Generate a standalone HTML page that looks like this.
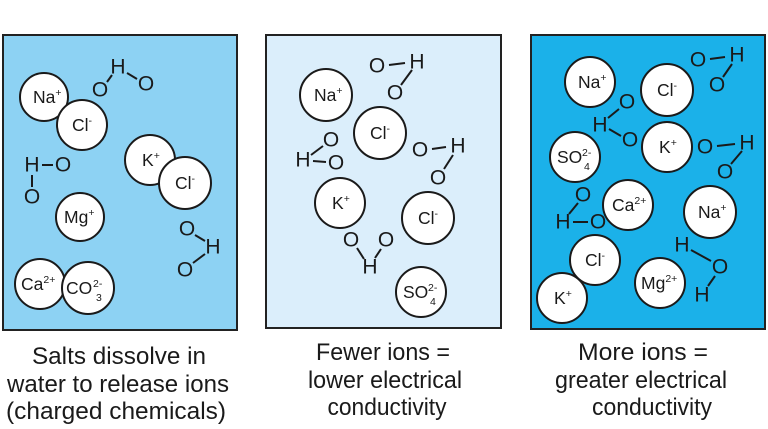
<!DOCTYPE html>
<html><head><meta charset="utf-8"><style>
html,body{margin:0;padding:0;background:#fff;}
svg{display:block;}
text{font-family:"Liberation Sans",sans-serif;fill:#1a1a1a;}
.a{font-size:21px;text-anchor:middle;dominant-baseline:central;}
.i{font-size:17.5px;}
.s{font-size:10.5px;}
.c{font-size:24px;text-anchor:middle;}
line{stroke:#1a1a1a;stroke-width:2;}
circle{fill:#fff;stroke:#1a1a1a;stroke-width:2;}
</style></head><body>
<svg width="768" height="429" viewBox="0 0 768 429" xmlns="http://www.w3.org/2000/svg">
<rect x="3" y="35" width="234" height="295" fill="#8dd2f3" stroke="#222" stroke-width="2"/>
<rect x="266" y="35" width="235" height="293" fill="#dbeefb" stroke="#222" stroke-width="2"/>
<rect x="531" y="35" width="234" height="294" fill="#1bb1e9" stroke="#222" stroke-width="2"/>

<!-- LEFT -->
<circle cx="44" cy="97" r="24"/><text x="33" y="103" class="i">Na<tspan class="s" dy="-7">+</tspan></text>
<circle cx="82" cy="125" r="25"/><text x="72" y="131" class="i">Cl<tspan class="s" dy="-7">-</tspan></text>
<circle cx="150" cy="160" r="25"/><text x="142" y="166" class="i">K<tspan class="s" dy="-7">+</tspan></text>
<circle cx="185" cy="183" r="26"/><text x="175" y="189" class="i">Cl<tspan class="s" dy="-7">-</tspan></text>
<circle cx="80" cy="217" r="24"/><text x="64" y="223" class="i">Mg<tspan class="s" dy="-7">+</tspan></text>
<circle cx="40" cy="284" r="25"/><text x="21" y="290" class="i">Ca<tspan class="s" dy="-7">2+</tspan></text>
<circle cx="88" cy="288" r="26"/><text x="66" y="294" class="i">CO</text><text x="93" y="287" class="s">2-</text><text x="96" y="301" class="s">3</text>
<text x="118" y="67" class="a">H</text><text x="100" y="90" class="a">O</text><text x="146" y="84" class="a">O</text>
<line x1="112" y1="75" x2="107" y2="82"/><line x1="127" y1="73" x2="137" y2="79"/>
<text x="32" y="165" class="a">H</text><text x="63" y="165" class="a">O</text><text x="32" y="197" class="a">O</text>
<line x1="42" y1="165" x2="53" y2="165"/><line x1="32" y1="175" x2="32" y2="187"/>
<text x="187" y="229" class="a">O</text><text x="213" y="247" class="a">H</text><text x="185" y="270" class="a">O</text>
<line x1="195" y1="235" x2="205" y2="241"/><line x1="193" y1="263" x2="205" y2="254"/>

<!-- MIDDLE -->
<circle cx="326" cy="95" r="26"/><text x="314" y="101" class="i">Na<tspan class="s" dy="-7">+</tspan></text>
<circle cx="380" cy="133" r="26"/><text x="370" y="139" class="i">Cl<tspan class="s" dy="-7">-</tspan></text>
<circle cx="340" cy="203" r="25"/><text x="332" y="209" class="i">K<tspan class="s" dy="-7">+</tspan></text>
<circle cx="428" cy="218" r="26"/><text x="418" y="224" class="i">Cl<tspan class="s" dy="-7">-</tspan></text>
<circle cx="421" cy="292" r="25"/><text x="403" y="298" class="i">SO</text><text x="428" y="291" class="s">2-</text><text x="430" y="305" class="s">4</text>
<text x="377" y="66" class="a">O</text><text x="417" y="62" class="a">H</text><text x="395" y="93" class="a">O</text>
<line x1="389" y1="65" x2="405" y2="63"/><line x1="412" y1="70" x2="401" y2="85"/>
<text x="331" y="140" class="a">O</text><text x="303" y="160" class="a">H</text><text x="336" y="163" class="a">O</text>
<line x1="313" y1="161" x2="326" y2="162"/><line x1="311" y1="155" x2="323" y2="146"/>
<text x="420" y="150" class="a">O</text><text x="458" y="146" class="a">H</text><text x="438" y="178" class="a">O</text>
<line x1="432" y1="149" x2="446" y2="147"/><line x1="453" y1="155" x2="444" y2="169"/>
<text x="351" y="240" class="a">O</text><text x="386" y="240" class="a">O</text><text x="370" y="267" class="a">H</text>
<line x1="357" y1="248" x2="364" y2="259"/><line x1="381" y1="249" x2="375" y2="258"/>

<!-- RIGHT -->
<circle cx="590" cy="82" r="25"/><text x="578" y="88" class="i">Na<tspan class="s" dy="-7">+</tspan></text>
<circle cx="667" cy="90" r="26"/><text x="657" y="96" class="i">Cl<tspan class="s" dy="-7">-</tspan></text>
<circle cx="575" cy="157" r="25"/><text x="557" y="163" class="i">SO</text><text x="582" y="156" class="s">2-</text><text x="584" y="170" class="s">4</text>
<circle cx="667" cy="147" r="25"/><text x="659" y="153" class="i">K<tspan class="s" dy="-7">+</tspan></text>
<circle cx="628" cy="205" r="25"/><text x="612" y="211" class="i">Ca<tspan class="s" dy="-7">2+</tspan></text>
<circle cx="710" cy="212" r="26"/><text x="698" y="218" class="i">Na<tspan class="s" dy="-7">+</tspan></text>
<circle cx="595" cy="260" r="25"/><text x="585" y="266" class="i">Cl<tspan class="s" dy="-7">-</tspan></text>
<circle cx="660" cy="283" r="25"/><text x="641" y="289" class="i">Mg<tspan class="s" dy="-7">2+</tspan></text>
<circle cx="562" cy="298" r="25"/><text x="554" y="304" class="i">K<tspan class="s" dy="-7">+</tspan></text>
<text x="698" y="60" class="a">O</text><text x="737" y="55" class="a">H</text><text x="717" y="85" class="a">O</text>
<line x1="710" y1="59" x2="725" y2="57"/><line x1="732" y1="64" x2="723" y2="77"/>
<text x="627" y="102" class="a">O</text><text x="600" y="125" class="a">H</text><text x="630" y="140" class="a">O</text>
<line x1="608" y1="118" x2="619" y2="109"/><line x1="609" y1="129" x2="621" y2="136"/>
<text x="705" y="147" class="a">O</text><text x="747" y="143" class="a">H</text><text x="725" y="172" class="a">O</text>
<line x1="717" y1="146" x2="735" y2="144"/><line x1="742" y1="151" x2="731" y2="164"/>
<text x="583" y="195" class="a">O</text><text x="563" y="222" class="a">H</text><text x="598" y="222" class="a">O</text>
<line x1="573" y1="222" x2="588" y2="222"/><line x1="578" y1="203" x2="569" y2="214"/>
<text x="682" y="245" class="a">H</text><text x="720" y="267" class="a">O</text><text x="702" y="295" class="a">H</text>
<line x1="691" y1="250" x2="711" y2="261"/><line x1="715" y1="276" x2="708" y2="286"/>

<!-- CAPTIONS -->
<text x="119" y="364" class="c" textLength="174" lengthAdjust="spacingAndGlyphs">Salts dissolve in</text>
<text x="118" y="392" class="c" textLength="222" lengthAdjust="spacingAndGlyphs">water to release ions</text>
<text x="116" y="419" class="c" textLength="220" lengthAdjust="spacingAndGlyphs">(charged chemicals)</text>
<text x="383" y="360" class="c" textLength="134" lengthAdjust="spacingAndGlyphs">Fewer ions =</text>
<text x="385" y="388" class="c" textLength="154" lengthAdjust="spacingAndGlyphs">lower electrical</text>
<text x="387" y="415" class="c" textLength="119" lengthAdjust="spacingAndGlyphs">conductivity</text>
<text x="643" y="360" class="c" textLength="130" lengthAdjust="spacingAndGlyphs">More ions =</text>
<text x="641" y="388" class="c" textLength="172" lengthAdjust="spacingAndGlyphs">greater electrical</text>
<text x="652" y="415" class="c" textLength="120" lengthAdjust="spacingAndGlyphs">conductivity</text>
</svg>
</body></html>
